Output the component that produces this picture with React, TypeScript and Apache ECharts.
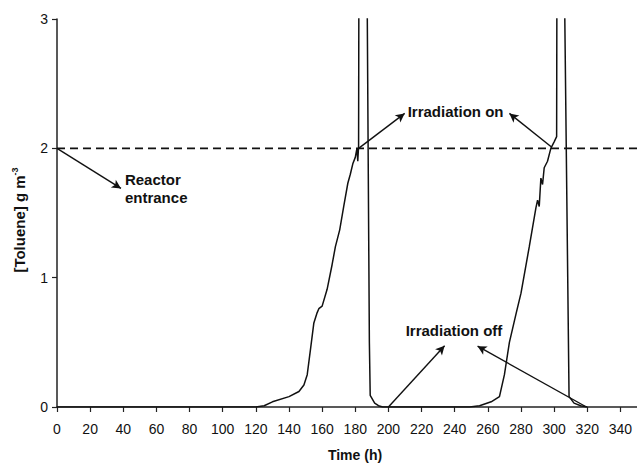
import React, { useEffect, useRef } from "react";
import * as echarts from "echarts";

// Time (h) and toluene concentration (g m-3)
const timeH = [
  0, 120, 125, 130, 140, 146, 149, 151, 153, 155, 157, 158, 160, 163, 166, 168, 170.6, 173, 175.5, 177,
  178.5, 180, 181, 181.5, 182, 182.2, 186.5, 187, 188.5, 189, 191.7, 194, 196.5,
  249, 255, 262, 267, 270, 273, 277, 280, 285, 289, 290, 291, 292, 293, 294, 296, 298, 300, 301.5,
  301.7, 306, 306.2, 309, 312, 316, 320,
];
const toluene = [
  0, 0, 0.01, 0.04, 0.08, 0.12, 0.17, 0.25, 0.45, 0.65, 0.73, 0.76, 0.78, 0.91, 1.1, 1.24, 1.37, 1.55, 1.73, 1.8,
  1.88, 1.93, 2.0, 1.9, 2.02, 3.5, 3.5, 3.5, 0.5, 0.09, 0.03, 0.01, 0,
  0, 0.01, 0.04, 0.08, 0.25, 0.5, 0.72, 0.88, 1.24, 1.54, 1.6, 1.55, 1.77, 1.72, 1.85, 1.9, 2.0, 2.05, 2.09,
  3.5, 3.5, 3.5, 0.08, 0.03, 0.01, 0,
];

// Reactor entrance concentration (dashed line)
const entranceTime = [0, 350];
const entranceLevel = [2, 2];

// Axis ticks
const xMin = 0;
const xMax = 350;
const xInterval = 20;
const yMin = 0;
const yMax = 3;
const yInterval = 1;

// Annotation labels
const labelTexts = ["Reactor\nentrance", "Irradiation on", "Irradiation off"];
const labelTimes = [41, 211.6, 210.4];
const labelValues = [1.687, 2.282, 0.588];

// Arrows: start (time, value) -> head (time, value)
const arrowFromT = [0, 182, 298.4, 200, 319.5];
const arrowFromV = [2.0, 2.0, 2.01, 0, 0];
const arrowToT = [38.6, 209.8, 273, 233.9, 253.8];
const arrowToV = [1.69, 2.27, 2.27, 0.473, 0.47];

const FONT = '"Liberation Sans", Arial, sans-serif';
const INK = "#111";

export default function App() {
  const ref = useRef<HTMLDivElement>(null);

  useEffect(() => {
    if (!ref.current) return;
    document.body.style.margin = "0";
    const chart = echarts.init(ref.current, null, { renderer: "svg" });
    const data = timeH.map((t, i) => [t, toluene[i]]);
    const entrance = entranceTime.map((t, i) => [t, entranceLevel[i]]);
    const arrows = arrowFromT.map((t, i) => [
      { coord: [t, arrowFromV[i]] },
      { coord: [arrowToT[i], arrowToV[i]] },
    ]);

    chart.setOption({
      animation: false,
      backgroundColor: "#ffffff",
      grid: { left: 57, right: 0, top: 19, bottom: 55, containLabel: false },
      xAxis: {
        type: "value",
        min: xMin,
        max: xMax,
        interval: xInterval,
        name: "Time (h)",
        nameLocation: "middle",
        nameGap: 41,
        nameTextStyle: {
          fontFamily: FONT,
          fontSize: 14,
          fontWeight: "bold",
          color: INK,
          padding: [0, 0, 0, 16],
        },
        axisLine: { lineStyle: { color: "#222", width: 1.5 } },
        axisTick: { show: true, length: 5, lineStyle: { color: "#222", width: 1.2 } },
        axisLabel: {
          fontFamily: FONT,
          fontSize: 14,
          color: INK,
          margin: 15,
          showMaxLabel: false,
        },
        splitLine: { show: false },
      },
      yAxis: {
        type: "value",
        min: yMin,
        max: yMax,
        interval: yInterval,
        name: "{b|[Toluene] g m}{s|-3}",
        nameLocation: "middle",
        nameGap: 29,
        nameRotate: 90,
        nameTextStyle: {
          color: INK,
          padding: [0, 14, 0, 0],
          rich: {
            b: { fontFamily: FONT, fontSize: 15, fontWeight: "bold", color: INK, lineHeight: 18 },
            s: { fontFamily: FONT, fontSize: 9, fontWeight: "bold", color: INK, lineHeight: 18, verticalAlign: "top" },
          },
        },
        axisLine: { show: true, lineStyle: { color: "#222", width: 1.5 } },
        axisTick: { show: true, length: 5, lineStyle: { color: "#222", width: 1.2 } },
        axisLabel: { fontFamily: FONT, fontSize: 14, color: INK, margin: 9 },
        splitLine: { show: false },
      },
      series: [
        {
          type: "line",
          data: entrance,
          symbol: "none",
          silent: true,
          lineStyle: { color: "#111", width: 1.8, type: [8, 5] },
          z: 1,
        },
        {
          type: "line",
          data,
          symbol: "none",
          clip: true,
          silent: true,
          lineStyle: { color: "#111", width: 1.5 },
          z: 2,
          markLine: {
            silent: true,
            symbol: ["none", "arrow"],
            symbolSize: [7, 9],
            label: { show: false },
            lineStyle: { color: "#111", width: 1.4, type: "solid" },
            emphasis: { disabled: true },
            data: arrows,
          },
        },
      ],
    });

    const graphic = labelTexts.map((text, i) => {
      const [px, py] = chart.convertToPixel({ gridIndex: 0 }, [labelTimes[i], labelValues[i]]);
      return {
        type: "text",
        x: px,
        y: py,
        silent: true,
        style: {
          text,
          fontFamily: FONT,
          fontSize: 15,
          fontWeight: "bold",
          fill: INK,
          align: "left",
          verticalAlign: "middle",
          textAlign: "left",
          textVerticalAlign: "middle",
          lineHeight: 18,
        },
      };
    });
    chart.setOption({ graphic });

    return () => chart.dispose();
  }, []);

  return <div ref={ref} style={{ width: 637, height: 467 }} />;
}
